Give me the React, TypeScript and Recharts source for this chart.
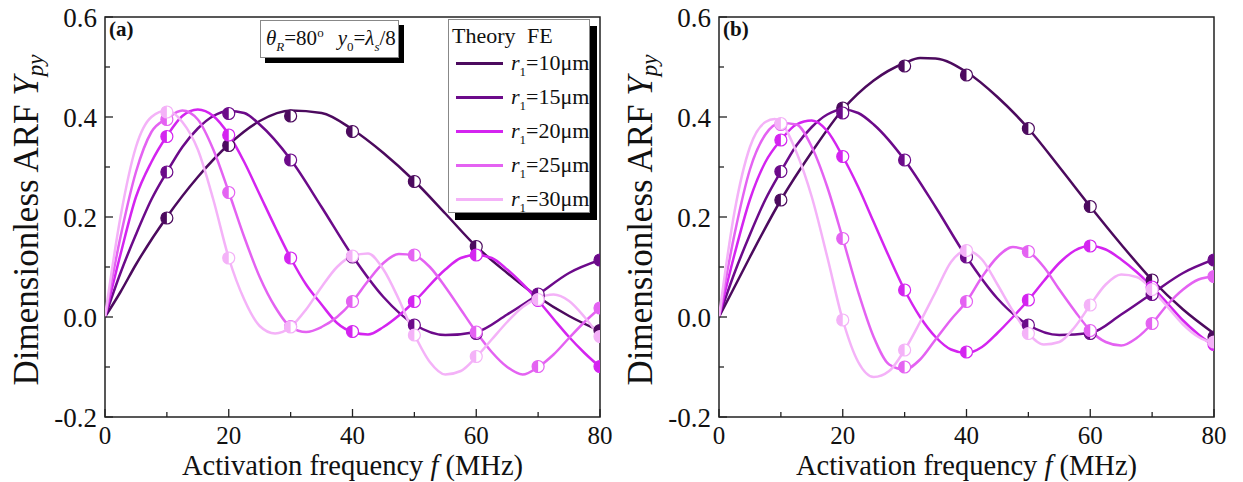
import React from 'react';
import { ComposedChart, Line, Scatter, XAxis, YAxis, ReferenceArea, Legend } from 'recharts';

const FONT = '"Liberation Serif", "Times New Roman", serif';

const RADII = [10, 15, 20, 25, 30];
const COLORS = ['#4c0a5e', '#6c0a8a', '#d424f0', '#e462f2', '#f4b2f8'];

const X_TICKS = [0, 10, 20, 30, 40, 50, 60, 70, 80];
const Y_TICKS = [-0.2, -0.1, 0, 0.1, 0.2, 0.3, 0.4, 0.5, 0.6];
const FE_FREQ = [10, 20, 30, 40, 50, 60, 70, 80];

// panel (a): theory curves as [f (MHz), Ypy]
const A_R10: [number, number][] = [[0, 0], [2.5, 0.05], [5, 0.105], [10, 0.2], [15, 0.28], [20, 0.345], [25, 0.392], [30, 0.413], [35, 0.408], [40, 0.375], [45, 0.328], [50, 0.272], [55, 0.207], [60, 0.141], [65, 0.088], [70, 0.04], [75, 0.002], [80, -0.028]];
const A_R15: [number, number][] = [[0, 0], [2.5, 0.088], [5, 0.165], [7.5, 0.235], [10, 0.29], [12.5, 0.34], [15, 0.377], [17.5, 0.402], [20, 0.412], [22.5, 0.408], [25, 0.385], [30, 0.315], [35, 0.22], [40, 0.122], [45, 0.04], [50, -0.015], [55, -0.036], [60, -0.03], [65, 0.005], [70, 0.045], [75, 0.088], [80, 0.114]];
const A_R20: [number, number][] = [[0, 0], [2.5, 0.125], [5, 0.24], [7.5, 0.31], [10, 0.362], [12.5, 0.402], [15, 0.415], [17.5, 0.402], [20, 0.365], [22.5, 0.31], [25, 0.245], [27.5, 0.18], [30, 0.118], [32.5, 0.065], [35, 0.025], [37.5, -0.012], [40, -0.03], [42.5, -0.035], [45, -0.02], [47.5, 0.003], [50, 0.031], [55, 0.095], [57.5, 0.118], [60, 0.124], [62.5, 0.118], [65, 0.095], [67.5, 0.066], [70, 0.033], [72.5, -0.004], [75, -0.04], [77.5, -0.072], [80, -0.1]];
const A_R25: [number, number][] = [[0, 0], [2.5, 0.16], [5, 0.29], [7.5, 0.37], [10, 0.397], [12.5, 0.413], [15, 0.395], [17.5, 0.335], [20, 0.25], [22.5, 0.16], [25, 0.08], [27.5, 0.02], [30, -0.02], [32.5, -0.03], [35, -0.02], [37.5, 0], [40, 0.031], [42.5, 0.072], [45, 0.108], [47.5, 0.126], [50, 0.123], [52.5, 0.1], [55, 0.06], [57.5, 0.015], [60, -0.03], [62.5, -0.07], [65, -0.1], [67.5, -0.115], [70, -0.1], [72.5, -0.075], [75, -0.042], [77.5, -0.01], [80, 0.018]];
const A_R30: [number, number][] = [[0, 0], [2.5, 0.2], [5, 0.34], [7.5, 0.4], [10, 0.413], [12.5, 0.39], [15, 0.335], [17.5, 0.235], [20, 0.118], [22.5, 0.035], [25, -0.018], [27.5, -0.033], [30, -0.02], [32.5, 0.015], [35, 0.06], [37.5, 0.1], [40, 0.122], [42.5, 0.127], [45, 0.095], [47.5, 0.035], [50, -0.035], [52.5, -0.09], [55, -0.115], [57.5, -0.108], [60, -0.08], [62.5, -0.045], [65, -0.01], [67.5, 0.02], [70, 0.038], [72.5, 0.045], [75, 0.032], [77.5, 0], [80, -0.04]];

// panel (a): FE results at FE_FREQ
const A_FE10 = [0.198, 0.343, 0.402, 0.371, 0.271, 0.141, 0.042, -0.027];
const A_FE15 = [0.29, 0.407, 0.314, 0.12, -0.016, -0.033, 0.046, 0.114];
const A_FE20 = [0.361, 0.364, 0.118, -0.029, 0.031, 0.124, 0.033, -0.099];
const A_FE25 = [0.395, 0.249, -0.019, 0.031, 0.124, -0.03, -0.099, 0.018];
const A_FE30 = [0.41, 0.118, -0.02, 0.122, -0.036, -0.079, 0.035, -0.039];

// panel (b): theory curves
const B_R10: [number, number][] = [[0, 0], [2.5, 0.06], [5, 0.12], [10, 0.234], [15, 0.33], [20, 0.415], [25, 0.473], [30, 0.508], [32.5, 0.518], [35, 0.517], [40, 0.49], [45, 0.44], [50, 0.377], [55, 0.3], [60, 0.221], [65, 0.145], [70, 0.074], [75, 0.015], [80, -0.033]];
const B_R15: [number, number][] = [[0, 0], [2.5, 0.088], [5, 0.165], [7.5, 0.235], [10, 0.291], [12.5, 0.343], [15, 0.38], [17.5, 0.405], [20, 0.415], [22.5, 0.408], [25, 0.385], [30, 0.314], [35, 0.22], [40, 0.12], [45, 0.037], [50, -0.016], [55, -0.036], [60, -0.032], [65, 0.005], [70, 0.047], [75, 0.088], [80, 0.115]];
const B_R20: [number, number][] = [[0, 0], [2.5, 0.125], [5, 0.235], [7.5, 0.31], [10, 0.354], [12.5, 0.385], [15, 0.393], [17.5, 0.372], [20, 0.321], [22.5, 0.26], [25, 0.19], [27.5, 0.12], [30, 0.054], [32.5, 0], [35, -0.04], [37.5, -0.065], [40, -0.072], [42.5, -0.06], [45, -0.032], [47.5, 0], [50, 0.034], [52.5, 0.072], [55, 0.108], [57.5, 0.133], [60, 0.142], [62.5, 0.135], [65, 0.115], [67.5, 0.09], [70, 0.06], [72.5, 0.027], [75, -0.007], [77.5, -0.035], [80, -0.058]];
const B_R25: [number, number][] = [[0, 0], [2.5, 0.165], [5, 0.295], [7.5, 0.365], [10, 0.388], [12.5, 0.385], [15, 0.34], [17.5, 0.26], [20, 0.157], [22.5, 0.05], [25, -0.04], [27.5, -0.095], [30, -0.105], [32.5, -0.085], [35, -0.045], [37.5, -0.005], [40, 0.031], [42.5, 0.08], [45, 0.12], [47.5, 0.14], [50, 0.131], [52.5, 0.1], [55, 0.055], [57.5, 0.012], [60, -0.027], [62.5, -0.05], [65, -0.057], [67.5, -0.042], [70, -0.013], [72.5, 0.025], [75, 0.055], [77.5, 0.075], [80, 0.081]];
const B_R30: [number, number][] = [[0, 0], [2.5, 0.21], [5, 0.34], [7.5, 0.39], [9, 0.396], [10, 0.39], [12.5, 0.33], [15, 0.24], [17.5, 0.12], [20, -0.006], [22.5, -0.09], [25, -0.12], [27.5, -0.108], [30, -0.066], [32.5, -0.01], [35, 0.05], [37.5, 0.11], [40, 0.133], [42.5, 0.115], [45, 0.065], [47.5, 0.012], [50, -0.033], [52.5, -0.055], [55, -0.05], [57.5, -0.02], [60, 0.024], [62.5, 0.065], [65, 0.085], [67.5, 0.08], [70, 0.055], [72.5, 0.02], [75, -0.015], [77.5, -0.04], [80, -0.053]];

// panel (b): FE results
const B_FE10 = [0.234, 0.418, 0.502, 0.484, 0.377, 0.221, 0.074, -0.04];
const B_FE15 = [0.291, 0.408, 0.314, 0.12, -0.016, -0.033, 0.045, 0.114];
const B_FE20 = [0.354, 0.321, 0.054, -0.07, 0.034, 0.142, 0.06, -0.055];
const B_FE25 = [0.385, 0.157, -0.1, 0.031, 0.131, -0.027, -0.013, 0.081];
const B_FE30 = [0.387, -0.006, -0.066, 0.133, -0.033, 0.024, 0.055, -0.05];

const XTick = (p: any) => {
  const { x, y, payload } = p;
  const v = payload.value;
  const major = v % 20 === 0;
  return (
    <g>
      <line x1={x} y1={y} x2={x} y2={y - (major ? 8 : 5)} stroke="#222" strokeWidth={1.3} />
      {major && (
        <text x={x} y={y + 27} textAnchor="middle" fontSize={25} fontFamily={FONT} fill="#111">
          {v}
        </text>
      )}
    </g>
  );
};

const YTick = (p: any) => {
  const { x, y, payload } = p;
  const v = payload.value;
  const major = Math.round(v * 10) % 2 === 0;
  return (
    <g>
      <line x1={x} y1={y} x2={x + (major ? 8 : 5)} y2={y} stroke="#222" strokeWidth={1.3} />
      {major && (
        <text x={x - 8} y={y} dy="0.38em" textAnchor="end" fontSize={27} fontFamily={FONT} fill="#111">
          {v.toFixed(1)}
        </text>
      )}
    </g>
  );
};

const YTitle = (p: any) => {
  const vb = p.viewBox || { x: 0, y: 17, width: 105, height: 400 };
  const cx = vb.x + vb.width - 79;
  const cy = vb.y + vb.height / 2 + 3;
  return (
    <text x={cx} y={cy} transform={`rotate(-90 ${cx} ${cy})`} textAnchor="middle" dominantBaseline="central" fontSize={35} fontFamily={FONT} fill="#111">
      {'Dimensionless ARF '}
      <tspan fontStyle="italic">Y</tspan>
      <tspan fontStyle="italic" fontSize={23} dy={9}>py</tspan>
    </text>
  );
};

const XTitle = (p: any) => {
  const vb = p.viewBox || { x: 105, y: 417, width: 495, height: 65 };
  const cx = vb.x + vb.width / 2;
  return (
    <text x={cx} y={vb.y + 58} textAnchor="middle" fontSize={28.5} fontFamily={FONT} fill="#111">
      {'Activation frequency '}
      <tspan fontStyle="italic">f</tspan>
      {' (MHz)'}
    </text>
  );
};

const halfDot = (color: string) => (p: any) => {
  const { cx, cy } = p;
  if (cx == null || cy == null) return <g />;
  const r = 6;
  return (
    <g>
      <circle cx={cx} cy={cy} r={r} fill="#fff" stroke={color} strokeWidth={1.2} />
      <path d={`M${cx},${cy - r} A${r},${r} 0 0 0 ${cx},${cy + r} Z`} fill={color} />
    </g>
  );
};

const Sub = ({ children }: { children: React.ReactNode }) => (
  <sub style={{ fontSize: 13, verticalAlign: '-6px', lineHeight: 0 }}>{children}</sub>
);

const LegendBox = () => (
  <div
    style={{
      position: 'relative',
      width: 142,
      height: 194,
      background: '#fff',
      border: '1px solid #888',
      boxShadow: '7px 7px 0 #000',
      fontFamily: FONT,
      color: '#111',
      boxSizing: 'border-box',
    }}
  >
    <div style={{ position: 'absolute', left: 3, top: 4, fontSize: 22, lineHeight: '24px' }}>Theory</div>
    <div style={{ position: 'absolute', left: 78, top: 4, fontSize: 22, lineHeight: '24px' }}>FE</div>
    {RADII.map((r, i) => (
      <div key={r} style={{ position: 'absolute', left: 0, top: 30 + 34 * i, height: 26, width: 142 }}>
        <div style={{ position: 'absolute', left: 7, top: 12, width: 47, height: 3, background: COLORS[i] }} />
        <div style={{ position: 'absolute', left: 62, top: 0, fontSize: 22, lineHeight: '26px', whiteSpace: 'nowrap' }}>
          <i>r</i>
          <Sub>1</Sub>={r}μm
        </div>
      </div>
    ))}
  </div>
);

const Panel = ({
  left,
  tag,
  theory,
  fe,
  legend,
}: {
  left: number;
  tag: string;
  theory: [number, number][][];
  fe: number[][];
  legend?: boolean;
}) => (
  <div style={{ position: 'absolute', left, top: 0, width: 628, height: 482 }}>
    <ComposedChart width={628} height={482} margin={{ top: 17, right: 28, bottom: 0, left: 0 }}>
      <XAxis
        dataKey="f"
        type="number"
        domain={[0, 80]}
        ticks={X_TICKS}
        interval={0}
        height={65}
        axisLine={false}
        tickLine={false}
        tickSize={0}
        tickMargin={0}
        tick={XTick}
        label={<XTitle />}
        allowDataOverflow
      />
      <YAxis
        type="number"
        domain={[-0.2, 0.6]}
        ticks={Y_TICKS}
        interval={0}
        width={105}
        axisLine={false}
        tickLine={false}
        tickSize={0}
        tickMargin={0}
        tick={YTick}
        label={<YTitle />}
        allowDataOverflow
      />
      <ReferenceArea
        x1={0}
        x2={80}
        y1={-0.2}
        y2={0.6}
        fill="none"
        fillOpacity={0}
        stroke="#222"
        strokeWidth={1.5}
        label={{ value: tag, position: 'insideTopLeft', offset: 4, fontSize: 21, fontWeight: 'bold', fontFamily: FONT, fill: '#111' }}
      />
      {theory.map((pts, i) => (
        <Line
          key={`t${i}`}
          data={pts.map(([f, v]) => ({ f, v }))}
          dataKey="v"
          type="monotone"
          stroke={COLORS[i]}
          strokeWidth={2.5}
          dot={false}
          activeDot={false}
          legendType="line"
          name={`r1=${RADII[i]}μm`}
          isAnimationActive={false}
        />
      ))}
      {fe.map((vals, i) => (
        <Scatter
          key={`s${i}`}
          data={FE_FREQ.map((f, k) => ({ f, v: vals[k] }))}
          dataKey="v"
          shape={halfDot(COLORS[i])}
          legendType="none"
          isAnimationActive={false}
        />
      ))}
      {legend && (
        <Legend
          layout="vertical"
          align="center"
          verticalAlign="middle"
          wrapperStyle={{ left: 448, top: 19, right: 'auto', bottom: 'auto', width: 142, height: 194 }}
          content={() => <LegendBox />}
        />
      )}
    </ComposedChart>
  </div>
);

export default function App() {
  return (
    <div style={{ position: 'absolute', left: 0, top: 0, width: 1243, height: 482, background: '#fff' }}>
      <Panel
        left={0}
        tag="(a)"
        theory={[A_R10, A_R15, A_R20, A_R25, A_R30]}
        fe={[A_FE10, A_FE15, A_FE20, A_FE25, A_FE30]}
        legend
      />
      <Panel
        left={614}
        tag="(b)"
        theory={[B_R10, B_R15, B_R20, B_R25, B_R30]}
        fe={[B_FE10, B_FE15, B_FE20, B_FE25, B_FE30]}
      />
      <div
        style={{
          position: 'absolute',
          left: 260,
          top: 20,
          width: 139,
          height: 38,
          boxSizing: 'border-box',
          border: '1px solid #888',
          background: '#fff',
          boxShadow: '5px 5px 0 #000',
          fontFamily: FONT,
          fontSize: 21,
          color: '#111',
          lineHeight: '34px',
          paddingLeft: 5,
          whiteSpace: 'nowrap',
        }}
      >
        <i>θ</i>
        <Sub>
          <i>R</i>
        </Sub>
        =80<sup style={{ fontSize: 13, verticalAlign: '8px', lineHeight: 0 }}>o</sup>
        <span style={{ display: 'inline-block', width: 14 }} />
        <i>y</i>
        <Sub>0</Sub>=<i>λ</i>
        <Sub>
          <i>s</i>
        </Sub>
        /8
      </div>
    </div>
  );
}
